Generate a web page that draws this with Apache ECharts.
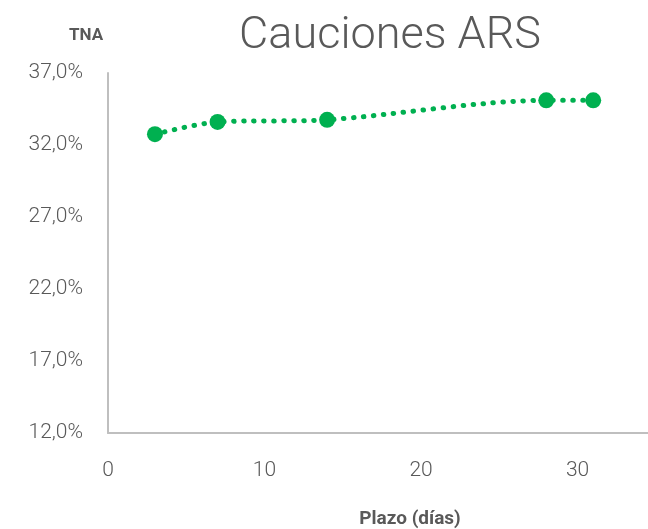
<!DOCTYPE html>
<html>
<head>
<meta charset="utf-8">
<script src="https://cdn.jsdelivr.net/npm/echarts@6/dist/echarts.min.js"></script>
<style>
  html, body { margin: 0; padding: 0; background: #fff; }
  #myChart { width: 648px; height: 529px; }
</style>
</head>
<body>
<div id="myChart"></div>
<script>
// plazo en días y TNA (%)
const plazos = [3, 7, 14, 28, 31];
const tna = [32.75, 33.6, 33.75, 35.1, 35.1];
const yTicks = [12, 17, 22, 27, 32, 37];
const xTicks = [0, 10, 20, 30];

const gris = '#595959';
const verde = '#00B050';

let myChart = echarts.init(document.getElementById('myChart'));
let option = {
    animation: false,
    title: [
        {
            text: 'Cauciones ARS',
            left: 385, top: 9, textAlign: 'center',
            textStyle: { fontFamily: 'Roboto', fontWeight: 300, fontSize: 45, color: gris }
        },
        {
            text: 'TNA',
            left: 81, top: 22, textAlign: 'center',
            textStyle: { fontFamily: 'Roboto', fontWeight: 'bold', fontSize: 17, color: gris }
        },
        {
            text: 'Plazo (días)',
            left: 405, top: 505, textAlign: 'center',
            textStyle: { fontFamily: 'Roboto', fontWeight: 'bold', fontSize: 19, color: gris }
        }
    ],
    grid: { left: 108, right: 0, top: 73, bottom: 96, outerBoundsMode: 'none' },
    xAxis: {
        type: 'value',
        min: 0, max: 34.5, interval: 10,
        axisLine: { show: true, lineStyle: { color: '#BFBFBF', width: 2 } },
        axisTick: { show: false },
        splitLine: { show: false },
        axisLabel: {
            color: gris, fontFamily: 'Roboto', fontWeight: 300, fontSize: 21, margin: 27,
            showMaxLabel: false,
            formatter: v => xTicks.includes(v) ? String(v) : ''
        }
    },
    yAxis: {
        type: 'value',
        min: yTicks[0], max: yTicks[yTicks.length - 1], interval: 5,
        axisLine: { show: true, lineStyle: { color: '#BFBFBF', width: 2 } },
        axisTick: { show: false },
        splitLine: { show: false },
        axisLabel: {
            color: gris, fontFamily: 'Roboto', fontWeight: 300, fontSize: 21, margin: 25,
            formatter: v => v.toFixed(1).replace('.', ',') + '%'
        }
    },
    series: [
        {
            type: 'line',
            data: plazos.map((p, i) => [p, tna[i]]),
            smooth: 0.3,
            symbol: 'circle',
            symbolSize: 16,
            itemStyle: { color: verde },
            lineStyle: { color: verde, width: 5, type: [0.5, 9.5], cap: 'round' }
        }
    ]
};
myChart.setOption(option);
</script>
</body>
</html>
